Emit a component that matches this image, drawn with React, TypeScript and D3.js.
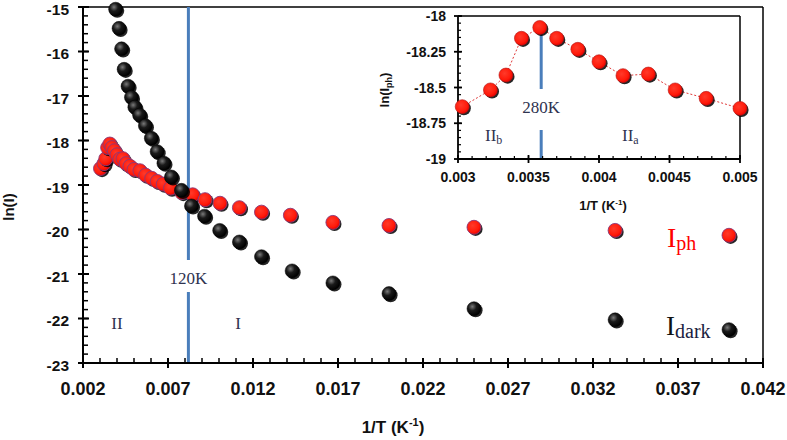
import React from "react";
import * as d3 from "d3";

// ---------- data ----------
const darkX = [0.00392, 0.00412, 0.00427, 0.00442, 0.00465, 0.00485, 0.00505, 0.00533, 0.00567, 0.00602, 0.00636, 0.00676, 0.0072, 0.00779, 0.00838, 0.00915, 0.01004, 0.0112, 0.0125, 0.0143, 0.0167, 0.02, 0.025, 0.0333, 0.04];
const darkY = [-15.05, -15.48, -15.94, -16.4, -16.78, -17.03, -17.25, -17.43, -17.67, -17.95, -18.25, -18.51, -18.82, -19.12, -19.47, -19.7, -20.02, -20.28, -20.61, -20.93, -21.2, -21.44, -21.78, -22.03, -22.25];

const phX = [0.00303, 0.00323, 0.00334, 0.00345, 0.00358, 0.0037, 0.00385, 0.004, 0.00417, 0.00435, 0.00454, 0.00476, 0.005, 0.00535, 0.00569, 0.00604, 0.00637, 0.00672, 0.00715, 0.00781, 0.00845, 0.00918, 0.01006, 0.0112, 0.0125, 0.0142, 0.0167, 0.02, 0.025, 0.0333, 0.04];
const phY = [-18.63, -18.52, -18.41, -18.16, -18.08, -18.16, -18.23, -18.32, -18.42, -18.41, -18.52, -18.58, -18.65, -18.68, -18.78, -18.85, -18.92, -18.98, -19.07, -19.17, -19.22, -19.33, -19.41, -19.51, -19.61, -19.68, -19.84, -19.91, -19.95, -20.02, -20.13];

const insetX = [0.00303, 0.00323, 0.00334, 0.00345, 0.00358, 0.0037, 0.00385, 0.004, 0.00417, 0.00435, 0.00454, 0.00476, 0.005];
const insetY = [-18.634, -18.517, -18.413, -18.156, -18.08, -18.156, -18.233, -18.32, -18.417, -18.406, -18.517, -18.576, -18.646];

const mainXTicks = [0.002, 0.007, 0.012, 0.017, 0.022, 0.027, 0.032, 0.037, 0.042];
const mainYTicks = [-15, -16, -17, -18, -19, -20, -21, -22, -23];
const insetXTicks = [0.003, 0.0035, 0.004, 0.0045, 0.005];
const insetYTicks = [-18, -18.25, -18.5, -18.75, -19];

const mainDivide = 0.0082; // 120K
const insetDivide = 0.00359; // 280K

// ---------- layout ----------
const W = 787;
const H = 440;
const SANS = "'Liberation Sans', Arial, sans-serif";
const SERIF = "'Liberation Serif', 'Times New Roman', serif";
const LINE_BLUE = "#4a7ebb";
const NOTE = "#2f3350";

const x = d3.scaleLinear().domain([0.002, 0.042]).range([83, 763]);
const y = d3.scaleLinear().domain([-23, -15]).range([363, 7]);
const xi = d3.scaleLinear().domain([0.003, 0.005]).range([458, 740]);
const yi = d3.scaleLinear().domain([-19, -18]).range([159, 16]);

function Dot({ cx, cy, r, kind, inset }: { cx: number; cy: number; r: number; kind: "dark" | "ph"; inset?: boolean }) {
  return (
    <g>
      <circle cx={cx + 1.6} cy={cy + 1.6} r={r} fill="#000" opacity={0.85} />
      <circle
        cx={cx}
        cy={cy}
        r={r}
        fill={kind === "dark" ? "url(#gDark)" : "url(#gRed)"}
        stroke={kind === "dark" ? "#000" : inset ? "#b01818" : "#8a3a7a"}
        strokeWidth={kind === "dark" ? 0.5 : inset ? 0.6 : 0.9}
      />
    </g>
  );
}

export default function App() {
  const mainXMinor = d3.range(0.002, 0.0425, 0.001);
  const mainYMinor = d3.range(-23, -14.95, 0.2);
  const insXMinor = d3.range(0.003, 0.00505, 0.0001);
  const insYMinor = d3.range(-19, -17.99, 0.05);

  const insetLine = d3
    .line<number>()
    .x((_, i) => xi(insetX[i]))
    .y((_, i) => yi(insetY[i]))(insetX);

  return (
    <svg width={W} height={H} style={{ position: "absolute", left: 0, top: 0, background: "#fff" }}>
      <defs>
        <radialGradient id="gDark" cx="38%" cy="35%" r="65%">
          <stop offset="0%" stopColor="#7a7a7a" />
          <stop offset="45%" stopColor="#1a1a1a" />
          <stop offset="100%" stopColor="#000" />
        </radialGradient>
        <radialGradient id="gRed" cx="40%" cy="38%" r="65%">
          <stop offset="0%" stopColor="#ff3a2a" />
          <stop offset="70%" stopColor="#ff1a0a" />
          <stop offset="100%" stopColor="#e40000" />
        </radialGradient>
      </defs>
      <rect x={0} y={0} width={W} height={H} fill="#fff" />

      {/* ---------- main frame ---------- */}
      <line x1={83} x2={763} y1={y(-15)} y2={y(-15)} stroke="#000" strokeWidth={1.5} />
      <line x1={763} x2={763} y1={y(-15)} y2={y(-23)} stroke="#000" strokeWidth={1.5} />

      {/* blue divider 120K */}
      <line x1={x(mainDivide)} x2={x(mainDivide)} y1={y(-15)} y2={260} stroke={LINE_BLUE} strokeWidth={3} />
      <line x1={x(mainDivide)} x2={x(mainDivide)} y1={292} y2={y(-23)} stroke={LINE_BLUE} strokeWidth={3} />
      <text x={x(mainDivide)} y={284} textAnchor="middle" fontFamily={SERIF} fontSize={17} fill={NOTE}>120K</text>
      <text x={117} y={329} textAnchor="middle" fontFamily={SERIF} fontSize={17} fill={NOTE}>II</text>
      <text x={238} y={329} textAnchor="middle" fontFamily={SERIF} fontSize={17} fill={NOTE}>I</text>

      {/* main axes */}
      <line x1={83} x2={83} y1={y(-15)} y2={y(-23)} stroke="#000" strokeWidth={2} />
      <line x1={83} x2={763} y1={y(-23)} y2={y(-23)} stroke="#000" strokeWidth={2} />
      {mainXMinor.map((v, i) => (
        <line key={"xm" + i} x1={x(v)} x2={x(v)} y1={y(-23) - 5} y2={y(-23)} stroke="#000" strokeWidth={1.5} />
      ))}
      {mainXTicks.map((v) => (
        <g key={"xt" + v}>
          <line x1={x(v)} x2={x(v)} y1={y(-23) - 5} y2={y(-23) + 5} stroke="#000" strokeWidth={2} />
          <text x={x(v)} y={395} textAnchor="middle" fontFamily={SANS} fontWeight="bold" fontSize={18} fill="#111">{String(v)}</text>
        </g>
      ))}
      {mainYMinor.map((v, i) => (
        <line key={"ym" + i} x1={83} x2={88} y1={y(v)} y2={y(v)} stroke="#000" strokeWidth={1.5} />
      ))}
      {mainYTicks.map((v) => (
        <g key={"yt" + v}>
          <line x1={78} x2={89} y1={y(v)} y2={y(v)} stroke="#000" strokeWidth={2} />
          <text x={69} y={y(v) + 7.5} textAnchor="end" fontFamily={SANS} fontWeight="bold" fontSize={15.5} fill="#111">{String(v)}</text>
        </g>
      ))}
      <text x={393} y={433} textAnchor="middle" fontFamily={SANS} fontWeight="bold" fontSize={17} fill="#111">
        1/T (K<tspan dy={-7} fontSize={11}>-1</tspan><tspan dy={7}>)</tspan>
      </text>
      <text transform={`translate(14,207) rotate(-90)`} textAnchor="middle" fontFamily={SANS} fontWeight="bold" fontSize={15} fill="#111">ln(I)</text>

      {/* main points */}
      {phX.map((v, i) => (
        <Dot key={"p" + i} cx={x(v)} cy={y(phY[i])} r={7} kind="ph" />
      ))}
      {darkX.map((v, i) => (
        <Dot key={"d" + i} cx={x(v)} cy={y(darkY[i])} r={7} kind="dark" />
      ))}

      {/* legend labels */}
      <text x={667} y={247} fontFamily={SERIF} fill="#ff0000">
        <tspan fontSize={28}>I</tspan>
        <tspan fontSize={20} dy={3}>ph</tspan>
      </text>
      <text x={666} y={335} fontFamily={SERIF} fill="#111">
        <tspan fontSize={27}>I</tspan>
        <tspan fontSize={20} dy={3} fill="#1a2040">dark</tspan>
      </text>

      {/* ---------- inset ---------- */}
      <rect x={458} y={16} width={282} height={143} fill="#fff" />
      <line x1={458} x2={740} y1={16} y2={16} stroke="#000" strokeWidth={1.5} />
      <line x1={740} x2={740} y1={16} y2={159} stroke="#000" strokeWidth={1.5} />
      <line x1={xi(insetDivide)} x2={xi(insetDivide)} y1={33} y2={89} stroke={LINE_BLUE} strokeWidth={3} />
      <line x1={xi(insetDivide)} x2={xi(insetDivide)} y1={130} y2={159} stroke={LINE_BLUE} strokeWidth={3} />
      <text x={xi(insetDivide)} y={113} textAnchor="middle" fontFamily={SERIF} fontSize={17} fill={NOTE}>280K</text>
      <text x={485} y={141} fontFamily={SERIF} fontSize={17} fill={NOTE}>
        II<tspan fontSize={12} dy={3}>b</tspan>
      </text>
      <text x={622} y={141} fontFamily={SERIF} fontSize={17} fill={NOTE}>
        II<tspan fontSize={12} dy={3}>a</tspan>
      </text>

      <line x1={458} x2={458} y1={16} y2={159} stroke="#000" strokeWidth={1.8} />
      <line x1={458} x2={740} y1={159} y2={159} stroke="#000" strokeWidth={1.8} />
      {insXMinor.map((v, i) => (
        <line key={"ixm" + i} x1={xi(v)} x2={xi(v)} y1={156} y2={159} stroke="#000" strokeWidth={1.2} />
      ))}
      {insetXTicks.map((v) => (
        <g key={"ixt" + v}>
          <line x1={xi(v)} x2={xi(v)} y1={155} y2={163} stroke="#000" strokeWidth={1.8} />
          <text x={xi(v)} y={182} textAnchor="middle" fontFamily={SANS} fontWeight="bold" fontSize={14} fill="#111">{String(v)}</text>
        </g>
      ))}
      {insYMinor.map((v, i) => (
        <line key={"iym" + i} x1={458} x2={461} y1={yi(v)} y2={yi(v)} stroke="#000" strokeWidth={1.2} />
      ))}
      {insetYTicks.map((v) => (
        <g key={"iyt" + v}>
          <line x1={454} x2={462} y1={yi(v)} y2={yi(v)} stroke="#000" strokeWidth={1.8} />
          <text x={446} y={yi(v) + 5} textAnchor="end" fontFamily={SANS} fontWeight="bold" fontSize={14} fill="#111">{String(v)}</text>
        </g>
      ))}
      <text x={603} y={210} textAnchor="middle" fontFamily={SANS} fontWeight="bold" fontSize={13} fill="#111">
        1/T (K<tspan dy={-5} fontSize={8}>-1</tspan><tspan dy={5}>)</tspan>
      </text>
      <text transform={`translate(389,90) rotate(-90)`} textAnchor="middle" fontFamily={SANS} fontWeight="bold" fontSize={13} fill="#111">
        ln(I<tspan fontSize={9} dy={3}>ph</tspan><tspan dy={-3}>)</tspan>
      </text>

      <path d={insetLine || ""} fill="none" stroke="#e03a3a" strokeWidth={1} strokeDasharray="2,2" />
      {insetX.map((v, i) => (
        <Dot key={"i" + i} cx={xi(v)} cy={yi(insetY[i])} r={7} kind="ph" inset />
      ))}
    </svg>
  );
}
